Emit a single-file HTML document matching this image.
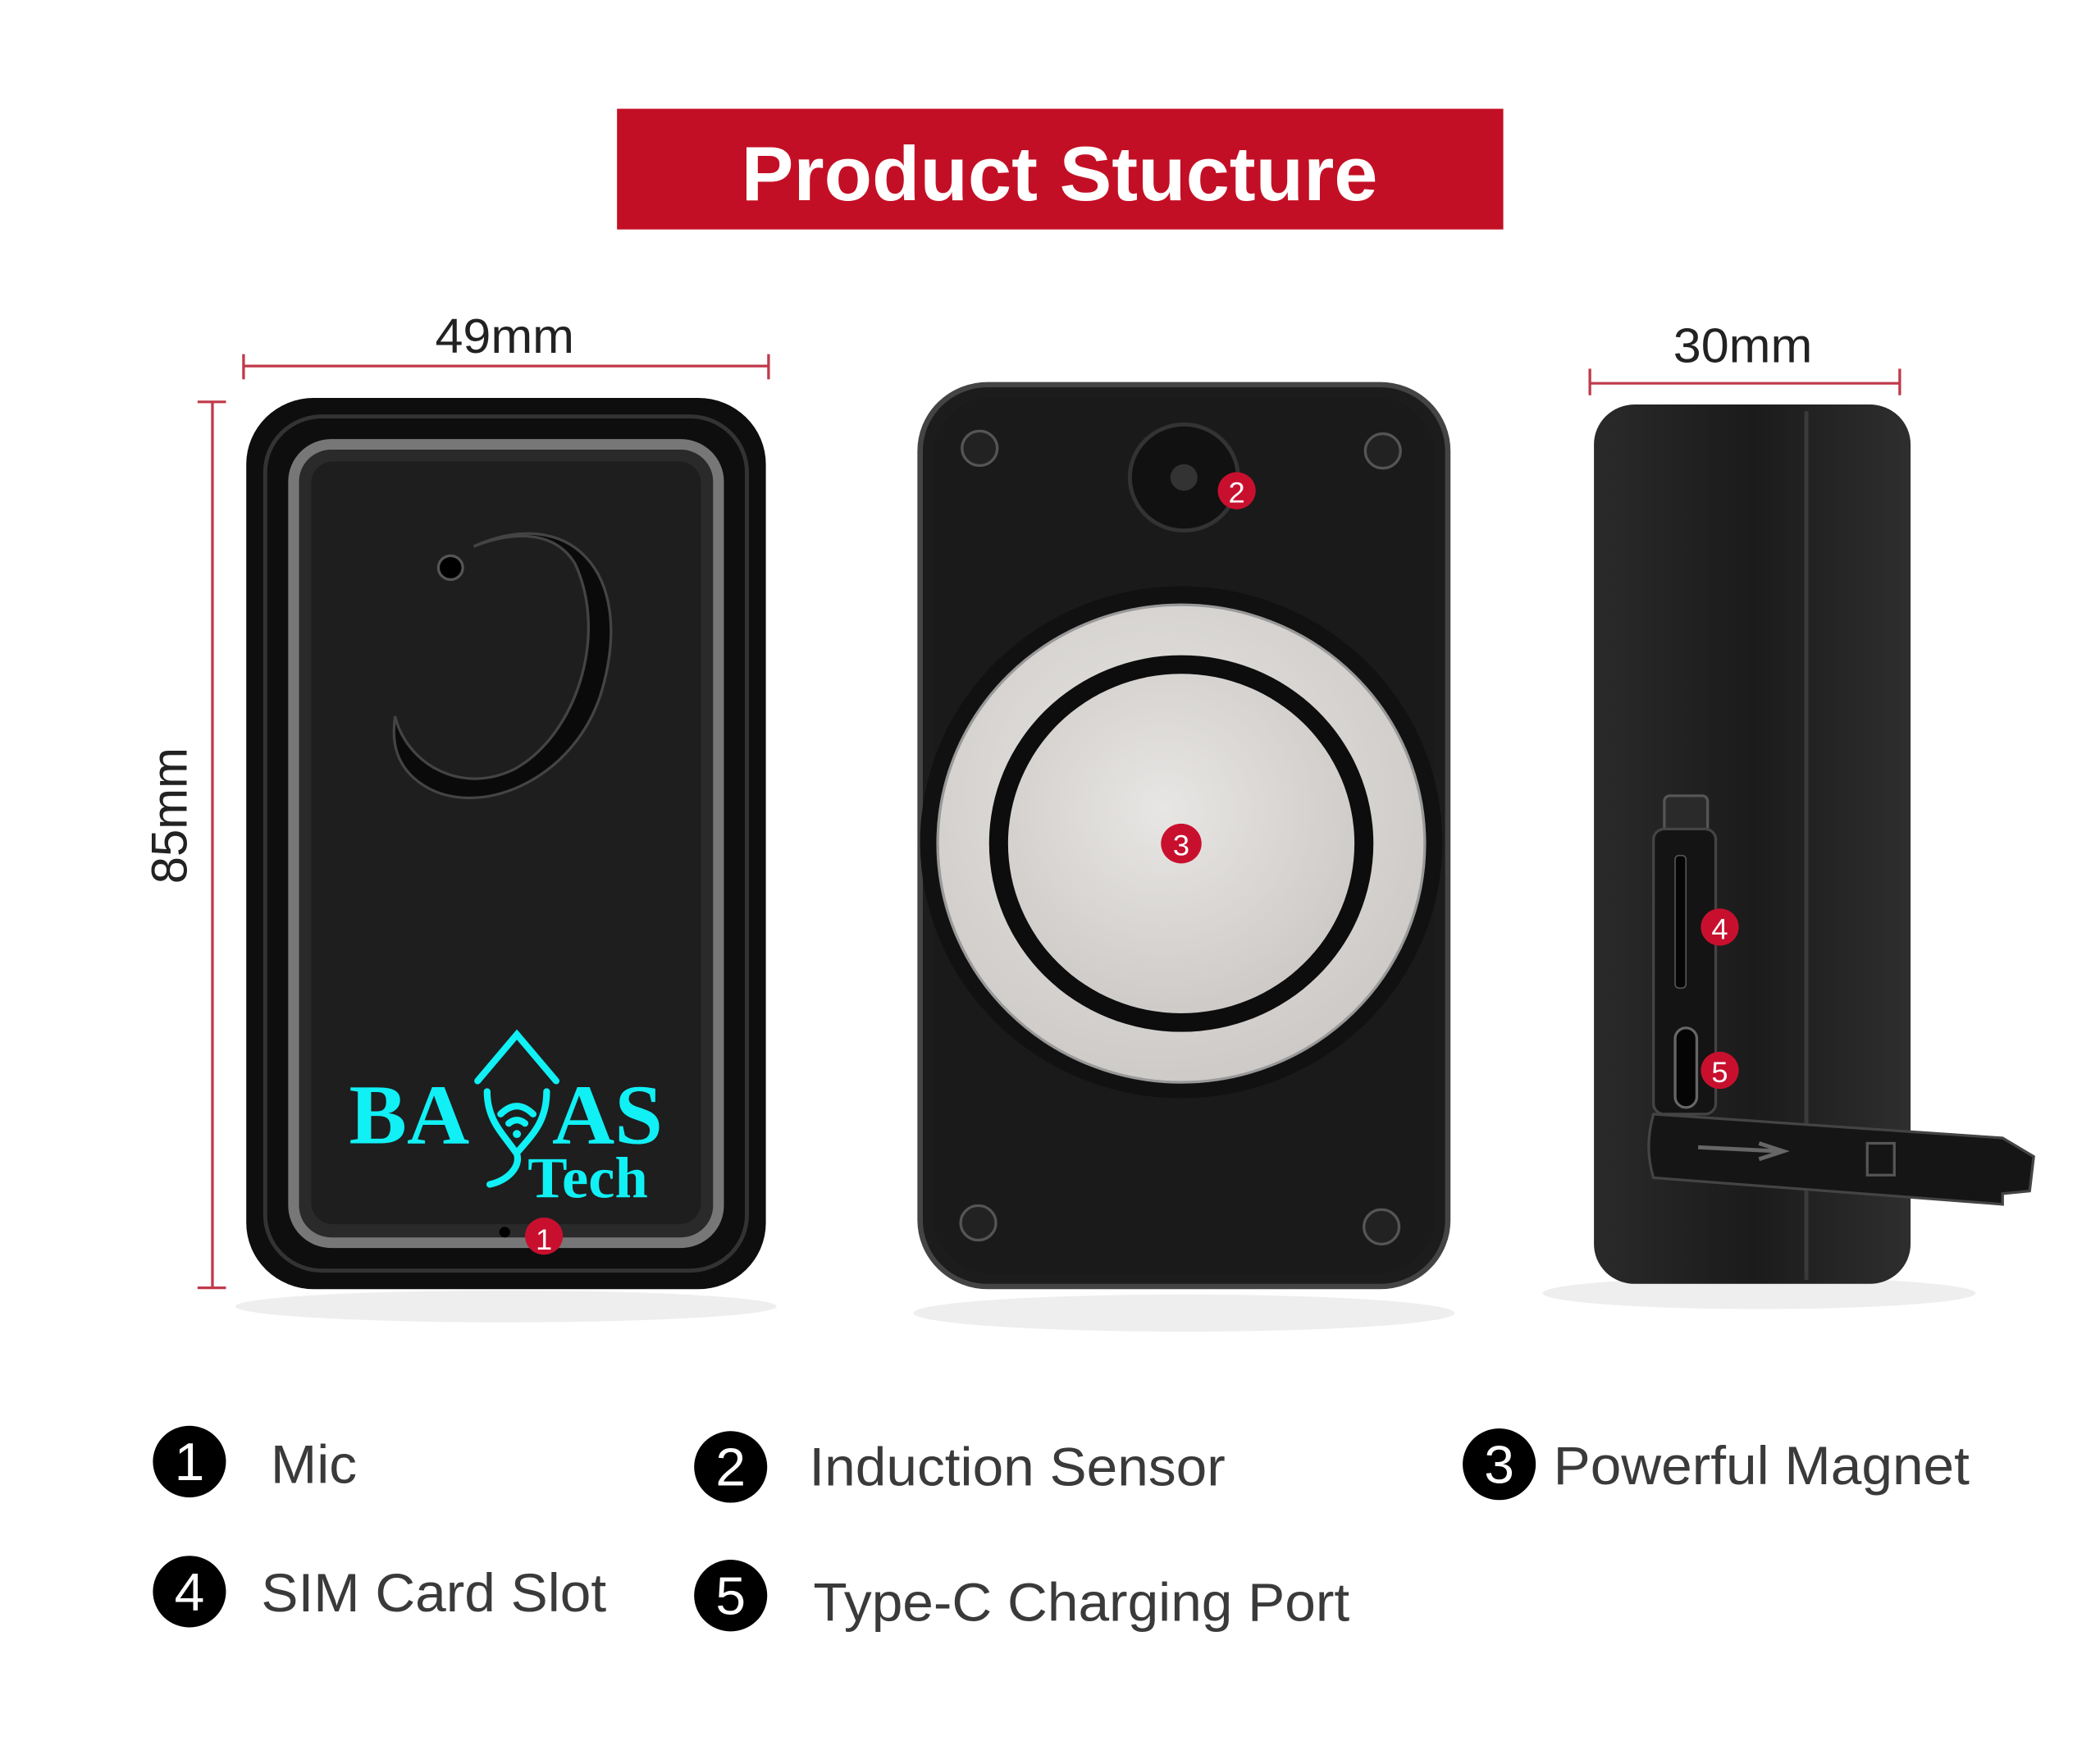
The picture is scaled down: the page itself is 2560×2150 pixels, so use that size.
<!DOCTYPE html>
<html><head><meta charset="utf-8"><style>html,body{margin:0;padding:0;background:#fff}svg{display:block}</style></head>
<body>
<svg width="2560" height="2150" viewBox="0 0 1552 1330" preserveAspectRatio="none" xmlns="http://www.w3.org/2000/svg" font-family="Liberation Sans, sans-serif">
<defs>
<radialGradient id="mag" cx="0.45" cy="0.4" r="0.7"><stop offset="0" stop-color="#e8e6e4"/><stop offset="1" stop-color="#c9c6c3"/></radialGradient>
<linearGradient id="side" x1="0" x2="1"><stop offset="0" stop-color="#2a2a2a"/><stop offset="0.5" stop-color="#1b1b1b"/><stop offset="1" stop-color="#2e2e2e"/></linearGradient>
</defs>
<rect width="1552" height="1330" fill="#fff"/>
<rect x="456" y="82" width="655" height="91" fill="#c30f25"/>
<text x="783" y="151" text-anchor="middle" font-size="58" font-weight="bold" fill="#fff">Product Stucture</text>
<g stroke="#c0394a" stroke-width="2" fill="none">
<line x1="180" y1="276" x2="568" y2="276"/><line x1="180" y1="267" x2="180" y2="286"/><line x1="568" y1="267" x2="568" y2="286"/>
<line x1="157" y1="303" x2="157" y2="971"/><line x1="146" y1="303" x2="167" y2="303"/><line x1="146" y1="971" x2="167" y2="971"/>
<line x1="1175" y1="289" x2="1404" y2="289"/><line x1="1175" y1="278" x2="1175" y2="298"/><line x1="1404" y1="278" x2="1404" y2="298"/>
</g>
<text x="373" y="266" text-anchor="middle" font-size="37" fill="#222">49mm</text>
<text x="1288" y="273" text-anchor="middle" font-size="37" fill="#222">30mm</text>
<text transform="translate(138,615) rotate(-90)" text-anchor="middle" font-size="37" fill="#222">85mm</text>
<ellipse cx="374" cy="985" rx="200" ry="12" fill="#eee"/>
<rect x="182" y="300" width="384" height="672" rx="50" fill="#0e0e0e"/>
<rect x="196" y="314" width="356" height="644" rx="42" fill="none" stroke="#333" stroke-width="3"/>
<rect x="217" y="335" width="314" height="602" rx="28" fill="#2a2a2a" stroke="#777" stroke-width="8"/>
<rect x="230" y="348" width="288" height="575" rx="16" fill="#1e1e1e"/>
<path d="M350 412 C420 380 470 430 445 520 C425 590 350 620 310 590 C290 575 290 555 292 540 C300 575 340 600 380 580 C425 555 450 480 425 425 C410 400 380 400 350 412 Z" fill="#0a0a0a" stroke="#444" stroke-width="2"/>
<circle cx="333" cy="428" r="9" fill="#000" stroke="#555" stroke-width="2"/>
<g fill="#10f0f5">
<text x="258" y="862" font-family="Liberation Serif, serif" font-weight="bold" font-size="64">BA</text>
<text x="408" y="862" font-family="Liberation Serif, serif" font-weight="bold" font-size="64">AS</text>
<text x="390" y="903" font-family="Liberation Serif, serif" font-weight="bold" font-size="44">Tech</text>
</g>
<g fill="none" stroke="#10f0f5" stroke-width="5" stroke-linecap="round">
<path d="M353 815 L382 780 L411 815"/>
<path d="M360 823 C360 845 372 855 382 870 C385 880 375 890 362 893"/>
<path d="M404 823 C404 845 394 855 383 868"/>
<path d="M370 840 Q382 828 394 840"/><path d="M376 847 Q382 842 388 847"/>
</g>
<circle cx="382" cy="855" r="3" fill="#10f0f5"/>
<circle cx="373" cy="929" r="4" fill="#000"/>
<circle cx="402" cy="932" r="14" fill="#c8102e"/><text x="402" y="942" text-anchor="middle" font-size="22" fill="#fff">1</text>
<ellipse cx="875" cy="990" rx="200" ry="14" fill="#eee"/>
<rect x="680" y="290" width="390" height="680" rx="50" fill="#1c1c1c" stroke="#444" stroke-width="4"/>
<rect x="690" y="300" width="370" height="660" rx="42" fill="#1a1a1a"/>
<g fill="#222" stroke="#555" stroke-width="2"><circle cx="724" cy="338" r="13"/><circle cx="1022" cy="340" r="13"/><circle cx="723" cy="922" r="13"/><circle cx="1021" cy="925" r="13"/></g>
<circle cx="875" cy="360" r="40" fill="#111" stroke="#333" stroke-width="3"/>
<circle cx="875" cy="360" r="10" fill="#333"/>
<circle cx="914" cy="370" r="14" fill="#c8102e"/><text x="914" y="379" text-anchor="middle" font-size="22" fill="#fff">2</text>
<circle cx="873" cy="635" r="193" fill="#111"/>
<circle cx="873" cy="636" r="180" fill="url(#mag)" stroke="#999" stroke-width="2"/>
<circle cx="873" cy="636" r="142" fill="#0d0d0d"/>
<circle cx="873" cy="636" r="128" fill="url(#mag)"/>
<circle cx="873" cy="636" r="15" fill="#c8102e"/><text x="873" y="645" text-anchor="middle" font-size="22" fill="#fff">3</text>
<ellipse cx="1300" cy="975" rx="160" ry="12" fill="#eee"/>
<rect x="1178" y="305" width="234" height="663" rx="30" fill="url(#side)"/>
<line x1="1335" y1="310" x2="1335" y2="965" stroke="#3a3a3a" stroke-width="3"/>
<rect x="1230" y="600" width="32" height="30" rx="4" fill="#2a2a2a" stroke="#555" stroke-width="2"/>
<rect x="1222" y="625" width="46" height="215" rx="8" fill="#141414" stroke="#444" stroke-width="2"/>
<rect x="1238" y="645" width="8" height="100" rx="3" fill="#050505" stroke="#555"/>
<rect x="1238" y="775" width="16" height="60" rx="8" fill="#050505" stroke="#666" stroke-width="2"/>
<circle cx="1271" cy="699" r="14" fill="#c8102e"/><text x="1271" y="708" text-anchor="middle" font-size="22" fill="#fff">4</text>
<circle cx="1271" cy="807" r="14" fill="#c8102e"/><text x="1271" y="816" text-anchor="middle" font-size="22" fill="#fff">5</text>
<path d="M1222 840 L1480 858 L1503 872 L1500 898 L1480 900 L1480 908 L1222 888 Q1215 865 1222 840 Z" fill="#151515" stroke="#444" stroke-width="2"/>
<path d="M1255 865 L1315 868 M1300 862 L1318 868 L1300 874" stroke="#666" stroke-width="3" fill="none"/>
<rect x="1380" y="862" width="20" height="24" fill="none" stroke="#555" stroke-width="2"/>
<g fill="#000"><circle cx="140" cy="1102" r="27"/><circle cx="540" cy="1106" r="27"/><circle cx="1108" cy="1104" r="27"/><circle cx="140" cy="1200" r="27"/><circle cx="540" cy="1203" r="27"/></g>
<g fill="#fff" font-size="40" text-anchor="middle"><text x="140" y="1116">1</text><text x="540" y="1120">2</text><text x="1108" y="1118">3</text><text x="140" y="1214">4</text><text x="540" y="1217">5</text></g>
<g fill="#3a3a3a" font-size="41">
<text x="200" y="1118">Mic</text>
<text x="598" y="1120">Induction Sensor</text>
<text x="1148" y="1119">Powerful Magnet</text>
<text x="193" y="1215">SIM Card Slot</text>
<text x="601" y="1222">Type-C Charging Port</text>
</g>
</svg>
</body></html>
